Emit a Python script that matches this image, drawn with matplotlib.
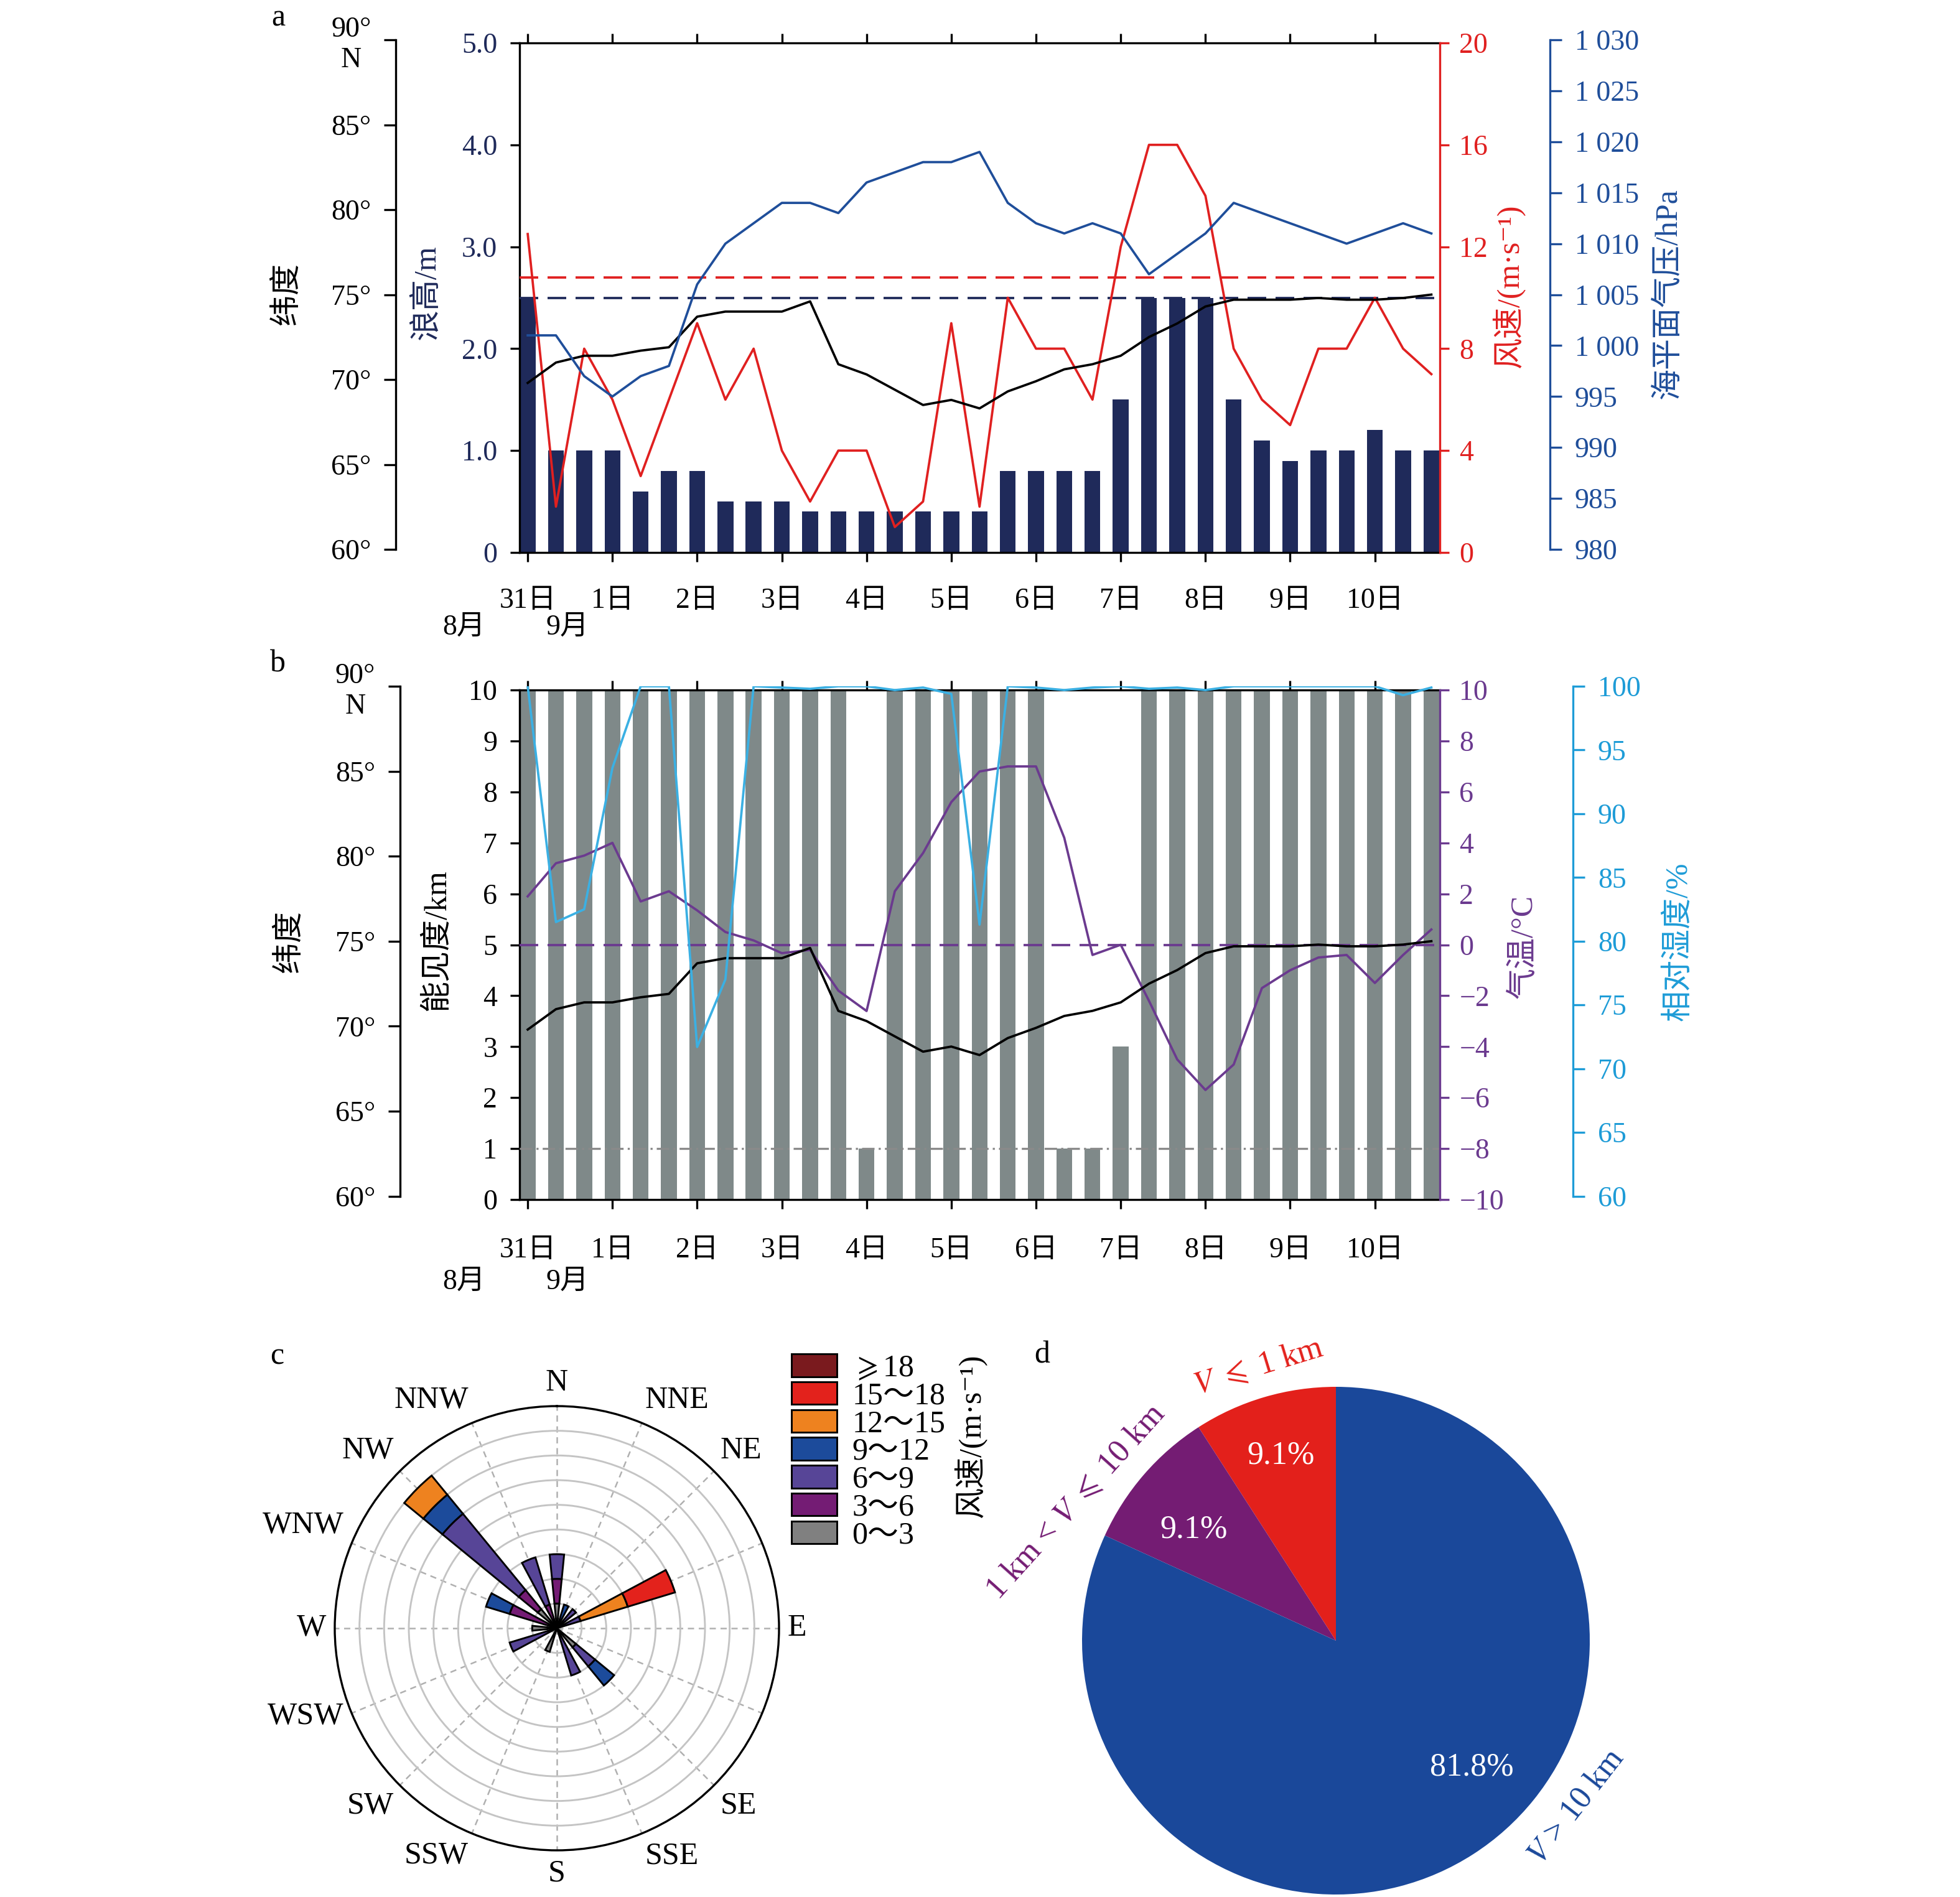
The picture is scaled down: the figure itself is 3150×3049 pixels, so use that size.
import numpy as np
import matplotlib
matplotlib.use('Agg')
import matplotlib.pyplot as plt
import matplotlib.transforms as mtransforms
from matplotlib.patches import Patch

plt.rcParams['font.family'] = ['Liberation Serif', 'Noto Sans CJK SC', 'DejaVu Sans']
plt.rcParams['mathtext.fontset'] = 'stix'
plt.rcParams['font.size'] = 11
plt.rcParams['axes.linewidth'] = 0.8
plt.rcParams['xtick.major.width'] = 0.8
plt.rcParams['ytick.major.width'] = 0.8
plt.rcParams['xtick.major.size'] = 3.5
plt.rcParams['ytick.major.size'] = 3.5

# ---------------- 数据 ----------------
days = ['31日', '1日', '2日', '3日', '4日', '5日', '6日', '7日', '8日', '9日', '10日']
months = ['8月', '9月']

# 每8小时一次观测, 共33次
wave = [2.5, 1.0, 1.0, 1.0, 0.6, 0.8, 0.8, 0.5, 0.5, 0.5, 0.4, 0.4, 0.4, 0.4, 0.4, 0.4, 0.4,
        0.8, 0.8, 0.8, 0.8, 1.5, 2.5, 2.5, 2.5, 1.5, 1.1, 0.9, 1.0, 1.0, 1.2, 1.0, 1.0]
wind = [12.5, 1.8, 8, 6, 3, 6, 9, 6, 8, 4, 2, 4, 4, 1, 2, 9, 1.8,
        10, 8, 8, 6, 12, 16, 16, 14, 8, 6, 5, 8, 8, 10, 8, 7]
pressure = [1001, 1001, 997, 995, 997, 998, 1006, 1010, 1012, 1014, 1014, 1013, 1016, 1017, 1018, 1018, 1019,
            1014, 1012, 1011, 1012, 1011, 1007, 1009, 1011, 1014, 1013, 1012, 1011, 1010, 1011, 1012, 1011]
lat = [69.8, 71.0, 71.4, 71.4, 71.7, 71.9, 73.7, 74.0, 74.0, 74.0, 74.6, 70.9, 70.3, 69.4, 68.5, 68.8, 68.3,
       69.3, 69.9, 70.6, 70.9, 71.4, 72.5, 73.3, 74.3, 74.7, 74.7, 74.7, 74.8, 74.7, 74.7, 74.8, 75.0]
vis = [10, 10, 10, 10, 10, 10, 10, 10, 10, 10, 10, 10, 1, 10, 10, 10, 10,
       10, 10, 1, 1, 3, 10, 10, 10, 10, 10, 10, 10, 10, 10, 10, 10]
temp = [1.9, 3.2, 3.5, 4.0, 1.7, 2.1, 1.35, 0.5, 0.17, -0.33, -0.2, -1.8, -2.6, 2.1, 3.6, 5.6, 6.8,
        7.0, 7.0, 4.2, -0.4, 0.0, -2.2, -4.5, -5.7, -4.7, -1.7, -1.0, -0.5, -0.4, -1.5, -0.4, 0.6]
hum = [100, 81.5, 82.5, 93.6, 100, 100, 71.7, 77.0, 100, 99.9, 99.8, 100, 100, 99.7, 99.9, 99.4, 81.3,
       100, 99.9, 99.7, 99.9, 100, 99.8, 99.9, 99.7, 100, 100, 100, 100, 100, 100, 99.3, 99.9]
wind_limit = 10.8
wave_limit = 2.5

# 风玫瑰 (次数)
dirs = ['N', 'NNE', 'NE', 'ENE', 'E', 'ESE', 'SE', 'SSE', 'S', 'SSW', 'SW', 'WSW', 'W', 'WNW', 'NW', 'NNW']
dir_labels = ['N', 'NNE', 'NE', '', 'E', '', 'SE', 'SSE', 'S', 'SSW', 'SW', 'WSW', 'W', 'WNW', 'NW', 'NNW']
rose_bins = ['0～3', '3～6', '6～9', '9～12', '12～15', '15～18', r'$\geqslant$18']
rose_counts = [
    [1, 0, 0, 0, 0, 0, 1, 0, 0, 1, 0, 0, 1, 0, 1, 0],   # 0~3
    [1, 0, 0, 0, 0, 0, 0, 0, 0, 0, 0, 0, 0, 2, 1, 1],   # 3~6
    [1, 0, 1, 1, 0, 0, 1, 2, 0, 0, 0, 2, 0, 0, 4, 2],   # 6~9
    [0, 1, 0, 0, 0, 0, 1, 0, 0, 0, 0, 0, 0, 1, 1, 0],   # 9~12
    [0, 0, 0, 2, 0, 0, 0, 0, 0, 0, 0, 0, 0, 0, 1, 0],   # 12~15
    [0, 0, 0, 2, 0, 0, 0, 0, 0, 0, 0, 0, 0, 0, 0, 0],   # 15~18
    [0, 0, 0, 0, 0, 0, 0, 0, 0, 0, 0, 0, 0, 0, 0, 0],   # >=18
]
rose_colors = ['#808080', '#741c74', '#574597', '#1c4b9b', '#ee821f', '#e3221c', '#7a1a1e']

# 能见度饼图
pie_labels = [r'$V$ $\leqslant$ 1 km', r'1 km < $V$ $\leqslant$ 10 km', r'$V$ > 10 km']
pie_vals = [9.1, 9.1, 81.8]
pie_colors = ['#e3201b', '#741c73', '#1a489a']

# ---------------- 颜色 ----------------
navy = '#1f2a5a'
red = '#e02020'
pblue = '#1f4e9a'
gray_bar = '#7f8989'
purple = '#6b3a8f'
cyan_line = '#3bb0e3'
cyan_ax = '#1e9cd7'

W, H = 3150, 3049
fig = plt.figure(figsize=(W / 300, H / 300), dpi=300)


def box(l, t, r, b):
    return [l / W, 1 - b / H, (r - l) / W, (b - t) / H]


t = np.arange(len(wave))
xlim = (-0.3, 32.3)
dash = (0, (8, 4))
wind_unit = '风速/(m·s⁻¹)'


def time_axis(ax, pad):
    ax.set_xlim(*xlim)
    ax.set_xticks(t[::3])
    ax.set_xticklabels(days)
    ax.tick_params(axis='x', top=True, direction='out', pad=pad, labelsize=11)
    trans = mtransforms.blended_transform_factory(ax.transData, ax.transAxes)
    return trans


def side_axis(rect, spine_side, offset, color, ylim, ticks, labels):
    ax = fig.add_axes(rect)
    ax.patch.set_visible(False)
    for s in ax.spines.values():
        s.set_visible(False)
    ax.spines[spine_side].set_visible(True)
    ax.spines[spine_side].set_position(('outward', offset))
    ax.spines[spine_side].set_color(color)
    ax.set_xlim(*xlim)
    ax.set_xticks([])
    ax.set_ylim(*ylim)
    if spine_side == 'right':
        ax.yaxis.tick_right()
    ax.set_yticks(ticks)
    ax.set_yticklabels(labels)
    ax.tick_params(axis='y', colors=color, direction='out', length=4.5, pad=5, labelsize=11)
    return ax


lat_ticks = np.arange(60, 91, 5)
lat_labels = [f'{v}°' for v in lat_ticks[:-1]] + ['90°\nN']
p_ticks = np.arange(980, 1031, 5)
p_labels = [f'{v:,}'.replace(',', ' ') for v in p_ticks]

# ---------------- a ----------------
ax_a = fig.add_axes(box(834.5, 69, 2314, 888))
ax_a.bar(t, wave, width=0.56, color=navy, zorder=2)
ax_a.axhline(wave_limit, color=navy, ls=dash, lw=0.9, zorder=3)
ax_a.set_ylim(0, 5)
ax_a.set_yticks(np.arange(0, 5.1, 1))
ax_a.set_yticklabels(['0'] + [f'{v:.1f}' for v in np.arange(1, 5.1, 1)])
ax_a.tick_params(axis='y', labelcolor=navy, direction='out', pad=5, labelsize=11)
ax_a.spines['right'].set_visible(False)
tr_a = time_axis(ax_a, 10)
ax_a.text(-2.25, -0.147, months[0], transform=tr_a, ha='center', va='center', fontsize=11)
ax_a.text(1.41, -0.147, months[1], transform=tr_a, ha='center', va='center', fontsize=11)

ax_w = ax_a.twinx()
ax_w.plot(t, wind, color=red, lw=0.9)
ax_w.axhline(wind_limit, color=red, ls=dash, lw=0.9)
ax_w.set_ylim(0, 20)
ax_w.set_yticks(np.arange(0, 21, 4))
ax_w.spines['right'].set_color(red)
for s in ['left', 'top', 'bottom']:
    ax_w.spines[s].set_visible(False)
ax_w.tick_params(axis='y', colors=red, direction='out', pad=4, labelsize=11)

ax_la = side_axis(box(834.5, 64, 2314, 883), 'left', 47.6, 'black', (60, 90), lat_ticks, lat_labels)
for lbl in ax_la.get_yticklabels():
    lbl.set_multialignment('center')
ax_la.plot(t, lat, color='black', lw=0.9)
ax_p = side_axis(box(834.5, 64, 2314, 883), 'right', 42.5, pblue, (980, 1030), p_ticks, p_labels)
ax_p.plot(t, pressure, color=pblue, lw=0.9)

fig.text(462 / W, 1 - 472 / H, '纬度', rotation=90, ha='center', va='center', fontsize=12)
fig.text(686 / W, 1 - 470 / H, '浪高/m', rotation=90, ha='center', va='center', fontsize=12, color=navy)
fig.text(2425 / W, 1 - 459 / H, wind_unit, rotation=90, ha='center', va='center', fontsize=12, color=red)
fig.text(2682 / W, 1 - 472 / H, '海平面气压/hPa', rotation=90, ha='center', va='center', fontsize=12, color=pblue)
fig.text(447 / W, 1 - 29 / H, 'a', ha='center', va='center', fontsize=12)

# ---------------- b ----------------
ax_b = fig.add_axes(box(834.5, 1109, 2314, 1928))
ax_b.bar(t, vis, width=0.56, color=gray_bar, zorder=2)
ax_b.axhline(1, color='#8a8a8a', ls=(0, (6, 2, 1, 2)), lw=0.8, zorder=3)
ax_b.set_ylim(0, 10)
ax_b.set_yticks(np.arange(0, 11, 1))
ax_b.tick_params(axis='y', direction='out', pad=5, labelsize=11)
ax_b.spines['right'].set_visible(False)
tr_b = time_axis(ax_b, 11)
ax_b.text(-2.25, -0.162, months[0], transform=tr_b, ha='center', va='center', fontsize=11)
ax_b.text(1.41, -0.162, months[1], transform=tr_b, ha='center', va='center', fontsize=11)

ax_t = ax_b.twinx()
ax_t.plot(t, temp, color=purple, lw=0.9)
ax_t.axhline(0, color=purple, ls=dash, lw=0.9)
ax_t.set_ylim(-10, 10)
ax_t.set_yticks(np.arange(-10, 11, 2))
ax_t.spines['right'].set_color(purple)
for s in ['left', 'top', 'bottom']:
    ax_t.spines[s].set_visible(False)
ax_t.tick_params(axis='y', colors=purple, direction='out', pad=4, labelsize=11)

ax_lb = side_axis(box(834.5, 1103, 2314, 1922.5), 'left', 46, 'black', (60, 90), lat_ticks, lat_labels)
for lbl in ax_lb.get_yticklabels():
    lbl.set_multialignment('center')
ax_lb.plot(t, lat, color='black', lw=0.9)
ax_h = side_axis(box(834.5, 1103, 2314, 1922.5), 'right', 51.4, cyan_ax, (60, 100),
                 np.arange(60, 101, 5), [str(v) for v in range(60, 101, 5)])
ax_h.plot(t, hum, color=cyan_line, lw=0.9)

fig.text(466 / W, 1 - 1513 / H, '纬度', rotation=90, ha='center', va='center', fontsize=12)
fig.text(703 / W, 1 - 1511 / H, '能见度/km', rotation=90, ha='center', va='center', fontsize=12)
fig.text(2449 / W, 1 - 1521 / H, '气温/°C', rotation=90, ha='center', va='center', fontsize=12, color=purple)
fig.text(2698 / W, 1 - 1513 / H, '相对湿度/%', rotation=90, ha='center', va='center', fontsize=12, color=cyan_ax)
fig.text(446 / W, 1 - 1067 / H, 'b', ha='center', va='center', fontsize=12)

# ---------------- c 风玫瑰 ----------------
ax_c = fig.add_axes(box(538, 2260, 1252, 2974), projection='polar')
ax_c.set_theta_zero_location('N')
ax_c.set_theta_direction(-1)
dir_deg = np.arange(len(dirs)) * 22.5
theta = np.deg2rad(dir_deg)
bottom = np.zeros(len(dirs))
for counts, col in zip(rose_counts, rose_colors):
    counts = np.array(counts, dtype=float)
    m = counts > 0
    if m.any():
        ax_c.bar(theta[m], counts[m], width=np.deg2rad(11.25), bottom=bottom[m],
                 color=col, edgecolor='black', linewidth=0.7, zorder=3)
    bottom += counts
ax_c.set_ylim(0, 9)
ax_c.set_rgrids(np.arange(1, 9), labels=[])
ax_c.set_thetagrids(dir_deg, labels=[''] * len(dirs))
ax_c.set_xticks(np.deg2rad(dir_deg + 11.25), minor=True)
ax_c.tick_params(axis='x', which='both', direction='in', length=5, width=0.8)
ax_c.yaxis.grid(True, color='#c4c4c4', lw=0.7, ls='-')
ax_c.xaxis.grid(True, which='major', color='#b0b0b0', lw=0.6, ls=(0, (4, 3)))
ax_c.spines['polar'].set_linewidth(0.8)
ax_c.set_axisbelow(True)
# 方位标注放在外圈之外, 按方位角对齐
for th, lab in zip(theta, dir_labels):
    s, c = np.sin(th), np.cos(th)
    ha = 'left' if s > 0.1 else ('right' if s < -0.1 else 'center')
    va = 'bottom' if c > 0.3 else ('top' if c < -0.5 else 'center')
    ax_c.text(th, 9.35, lab, ha=ha, va=va, fontsize=12, clip_on=False)

handles = [Patch(facecolor=c, edgecolor='black', linewidth=0.7) for c in rose_colors[::-1]]
fig.legend(handles, rose_bins[::-1], loc='upper left', bbox_to_anchor=(1272 / W, 1 - 2176 / H),
           frameon=False, fontsize=12, handlelength=1.45, handleheight=0.75, labelspacing=-0.04,
           handletextpad=0.5, borderpad=0, borderaxespad=0)
fig.text(1560 / W, 1 - 2307 / H, wind_unit, rotation=90, ha='center', va='center', fontsize=12)
fig.text(445 / W, 1 - 2180 / H, 'c', ha='center', va='center', fontsize=12)

# ---------------- d 能见度饼图 ----------------
ax_d = fig.add_axes(box(1739, 2229, 2555, 3045))
wedges, _ = ax_d.pie(pie_vals, colors=pie_colors, startangle=90, counterclock=True, radius=1,
                     wedgeprops=dict(linewidth=0))
ax_d.set_xlim(-1, 1)
ax_d.set_ylim(-1, 1)
pct_pos = [(106.5, 0.76), (142, 0.71), (317, 0.73)]
lab_pos = [(105.8, 1.12, 17), (152, 1.16, 48), (325.3, 1.15, 52)]
for i, w in enumerate(wedges):
    a, r = pct_pos[i]
    ax_d.text(r * np.cos(np.deg2rad(a)), r * np.sin(np.deg2rad(a)), f'{pie_vals[i]}%',
              ha='center', va='center', color='white', fontsize=12.5)
    a, r, rot = lab_pos[i]
    ax_d.text(r * np.cos(np.deg2rad(a)), r * np.sin(np.deg2rad(a)), pie_labels[i],
              ha='center', va='center', rotation=rot, color=pie_colors[i], fontsize=12.5)
fig.text(1675 / W, 1 - 2178 / H, 'd', ha='center', va='center', fontsize=12)

fig.savefig('out.png', dpi=300)
